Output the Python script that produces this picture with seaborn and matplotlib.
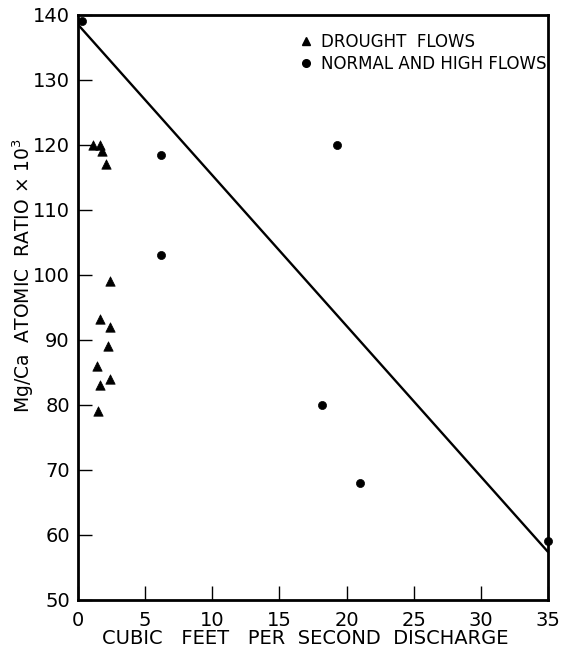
import matplotlib
matplotlib.use("Agg")
import matplotlib.pyplot as plt
import seaborn as sns
import pandas as pd
from matplotlib.lines import Line2D

# Data
drought_x = [1.1, 1.6, 1.8, 2.1, 2.4, 1.6, 2.4, 2.2, 1.4, 2.4, 1.6, 1.5]
drought_y = [120, 120, 119, 117, 99, 93.3, 92, 89, 86, 84, 83, 79]
normal_x = [0.3, 6.2, 6.2, 19.3, 18.2, 21.0, 35.0]
normal_y = [139, 118.5, 103, 120, 80, 68, 59]
line_x = [0, 35]
line_y = [138.5, 57.4]
x_ticks = [0, 5, 10, 15, 20, 25, 30, 35]
y_ticks = [50, 60, 70, 80, 90, 100, 110, 120, 130, 140]
labels = ["DROUGHT  FLOWS", "NORMAL AND HIGH FLOWS"]

sns.set_style("ticks")
plt.rcParams['font.family'] = ['DejaVu Sans']
plt.rcParams['text.color'] = 'black'
plt.rcParams['axes.labelcolor'] = 'black'
plt.rcParams['xtick.color'] = 'black'
plt.rcParams['ytick.color'] = 'black'
plt.rcParams['axes.edgecolor'] = 'black'

df = pd.DataFrame({
    "x": drought_x + normal_x,
    "y": drought_y + normal_y,
    "kind": [labels[0]] * len(drought_x) + [labels[1]] * len(normal_x),
})

fig = plt.figure(figsize=(5.62, 6.5), dpi=100)
ax = fig.add_axes([0.139, 0.077, 0.836, 0.9])

sns.lineplot(x=line_x, y=line_y, ax=ax, color="black", linewidth=1.7)

for kind, marker, size in [(labels[0], "^", 46), (labels[1], "o", 34)]:
    sub = df[df["kind"] == kind]
    sns.scatterplot(data=sub, x="x", y="y", ax=ax, marker=marker, s=size,
                    color="black", edgecolor="black", linewidth=0.5,
                    clip_on=False, zorder=3, legend=False)

ax.set_xlim(0, 35)
ax.set_ylim(50, 140)
ax.set_xticks(x_ticks)
ax.set_yticks(y_ticks)
ax.set_xticklabels([str(v) for v in x_ticks])
ax.set_yticklabels([str(v) for v in y_ticks])
ax.tick_params(direction="in", length=10, width=1, labelsize=14,
               top=False, right=False, colors="black")
ax.tick_params(axis="x", pad=8)
ax.tick_params(axis="y", pad=6)
for sp in ax.spines.values():
    sp.set_linewidth(2)
    sp.set_color("black")
    sp.set_visible(True)

ax.set_xlabel("CUBIC   FEET   PER  SECOND  DISCHARGE", fontsize=14)
ax.xaxis.set_label_coords(0.483, -0.049)
ax.set_ylabel(r"Mg/Ca  ATOMIC  RATIO $\times$ 10$^3$", fontsize=13.5)
ax.yaxis.set_label_coords(-0.09, 0.554)

handles = [
    Line2D([], [], marker="^", color="black", linestyle="none", markersize=6),
    Line2D([], [], marker="o", color="black", linestyle="none", markersize=5.5),
]
ax.legend(handles, labels, loc="upper right", bbox_to_anchor=(1.012, 0.98),
          frameon=False, fontsize=12, handletextpad=0.4, borderaxespad=0.0,
          labelspacing=0.22, handlelength=1.0)

fig.savefig("out.png", dpi=100)
